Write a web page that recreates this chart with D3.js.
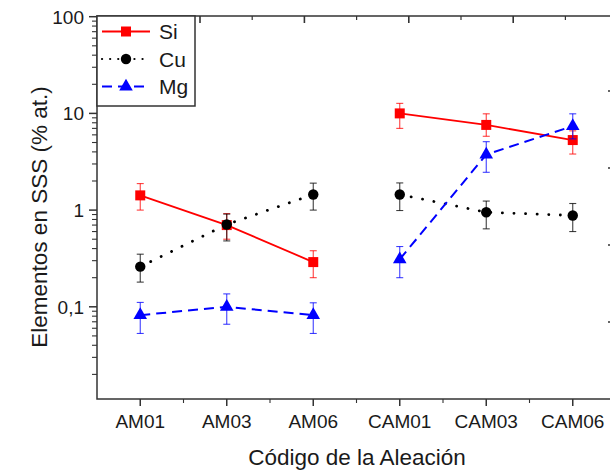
<!DOCTYPE html>
<html>
<head>
<meta charset="utf-8">
<script src="https://cdn.jsdelivr.net/npm/d3@7"></script>
<style>
  body { margin: 0; background: #fff; }
  text { font-family: "Liberation Sans", Arial, sans-serif; fill: #1a1a1a; }
</style>
</head>
<body>
<svg width="610" height="470"></svg>
<script>
var alloys = ["AM01", "AM03", "AM06", "CAM01", "CAM03", "CAM06"];

var si    = [1.42, 0.70, 0.29, 10.0, 7.6, 5.3];
var siLo  = [1.0, 0.50, 0.20, 7.0, 5.8, 3.8];
var siHi  = [1.88, 0.92, 0.38, 12.7, 9.9, 6.6];

var cu    = [0.26, 0.71, 1.45, 1.45, 0.95, 0.88];
var cuLo  = [0.18, 0.48, 1.0, 0.99, 0.64, 0.60];
var cuHi  = [0.35, 0.91, 1.9, 1.91, 1.24, 1.17];

var mg    = [0.082, 0.10, 0.082, 0.31, 3.75, 7.4];
var mgLo  = [0.053, 0.066, 0.053, 0.20, 2.46, 5.45];
var mgHi  = [0.111, 0.136, 0.11, 0.42, 5.1, 9.9];

var yTicks = [100, 10, 1, 0.1];
var yTickLabels = ["100", "10", "1", "0,1"];

var series = [
  { name: "Si", color: "#f00", v: si, lo: siLo, hi: siHi, dash: null, cap: "butt", width: 1.8, shape: d3.symbolSquare, size: 100 },
  { name: "Cu", color: "#000", v: cu, lo: cuLo, hi: cuHi, dash: "0.1,11.5", cap: "round", width: 2.8, shape: d3.symbolCircle, size: 85 },
  { name: "Mg", color: "#00f", v: mg, lo: mgLo, hi: mgHi, dash: "10,6", cap: "butt", width: 2, shape: d3.symbolTriangle, size: 80 }
];

var margin = { left: 97, top: 16, right: 616, bottom: 399 };
var svg = d3.select("svg");

var x = d3.scalePoint().domain(alloys).range([margin.left, margin.right]).padding(0.5);
var y = d3.scaleLog().domain([0.01, 100]).range([403.5, 16.7]);

// frame
svg.append("rect")
  .attr("x", margin.left).attr("y", margin.top)
  .attr("width", margin.right - margin.left).attr("height", margin.bottom - margin.top)
  .attr("fill", "none").attr("stroke", "#333").attr("stroke-width", 1.5);

// left axis: decades and minor ticks
var minor = [];
for (var e = -2; e < 2; e++) {
  for (var m = 2; m < 10; m++) minor.push(m * Math.pow(10, e));
}
minor = minor.filter(function(d) { return y(d) < margin.bottom; });
svg.append("g").selectAll("line").data(minor).join("line")
  .attr("x1", margin.left - 5).attr("x2", margin.left)
  .attr("y1", function(d) { return y(d); }).attr("y2", function(d) { return y(d); })
  .attr("stroke", "#333").attr("stroke-width", 1.1);
svg.append("g").selectAll("line").data(yTicks).join("line")
  .attr("x1", margin.left - 8).attr("x2", margin.left)
  .attr("y1", function(d) { return y(d); }).attr("y2", function(d) { return y(d); })
  .attr("stroke", "#333").attr("stroke-width", 1.5);
svg.append("g").selectAll("text").data(yTicks).join("text")
  .attr("x", margin.left - 13)
  .attr("y", function(d) { return y(d); })
  .attr("dy", "0.36em")
  .attr("text-anchor", "end")
  .attr("font-size", 19)
  .text(function(d, i) { return yTickLabels[i]; });

// bottom axis
var step = x.step();
svg.append("g").selectAll("line").data(alloys).join("line")
  .attr("x1", function(d) { return x(d); }).attr("x2", function(d) { return x(d); })
  .attr("y1", margin.bottom).attr("y2", margin.bottom + 7)
  .attr("stroke", "#333").attr("stroke-width", 1.5);
svg.append("g").selectAll("line").data(alloys.slice(0, -1)).join("line")
  .attr("x1", function(d) { return x(d) + step / 2; }).attr("x2", function(d) { return x(d) + step / 2; })
  .attr("y1", margin.bottom).attr("y2", margin.bottom + 4)
  .attr("stroke", "#333").attr("stroke-width", 1.1);
svg.append("g").selectAll("text").data(alloys).join("text")
  .attr("x", function(d) { return x(d); })
  .attr("y", 428)
  .attr("text-anchor", "middle")
  .attr("font-size", 19)
  .text(function(d) { return d; });

// top axis (inward ticks)
var topTicks = d3.range(0, 8);
svg.append("g").selectAll("line").data(topTicks).join("line")
  .attr("x1", function(d) { return 200 + d * 52.2; }).attr("x2", function(d) { return 200 + d * 52.2; })
  .attr("y1", margin.top).attr("y2", function(d) { return margin.top + (d % 2 === 0 ? 7 : 4); })
  .attr("stroke", "#333").attr("stroke-width", function(d) { return d % 2 === 0 ? 1.6 : 1.2; });

// right axis (inward ticks)
var rightTicks = [91, 168, 245, 322];
svg.append("g").selectAll("line").data(rightTicks).join("line")
  .attr("x1", margin.right - 8).attr("x2", margin.right)
  .attr("y1", function(d) { return d; }).attr("y2", function(d) { return d; })
  .attr("stroke", "#333").attr("stroke-width", 1.5);

// axis titles
svg.append("text")
  .attr("transform", "translate(47,217) rotate(-90)")
  .attr("text-anchor", "middle")
  .attr("font-size", 22.5)
  .text("Elementos en SSS (% at.)");
svg.append("text")
  .attr("x", 357).attr("y", 465)
  .attr("text-anchor", "middle")
  .attr("font-size", 22.5)
  .text("Código de la Aleación");

// series
var groupSplits = [[0, 3], [3, 6]];
series.forEach(function(s) {
  var g = svg.append("g");
  var line = d3.line()
    .x(function(d) { return x(alloys[d]); })
    .y(function(d) { return y(s.v[d]); });
  groupSplits.forEach(function(r) {
    g.append("path")
      .datum(d3.range(r[0], r[1]))
      .attr("d", line)
      .attr("fill", "none")
      .attr("stroke", s.color)
      .attr("stroke-width", s.width)
      .attr("stroke-linecap", s.cap)
      .attr("stroke-dasharray", s.dash);
  });
  var idx = d3.range(alloys.length);
  g.selectAll("line.err").data(idx).join("line")
    .attr("x1", function(i) { return x(alloys[i]); }).attr("x2", function(i) { return x(alloys[i]); })
    .attr("y1", function(i) { return y(s.lo[i]); }).attr("y2", function(i) { return y(s.hi[i]); })
    .attr("stroke", s.color).attr("stroke-width", 1.1).attr("opacity", 0.75);
  ["lo", "hi"].forEach(function(k) {
    g.selectAll("line.cap" + k).data(idx).join("line")
      .attr("x1", function(i) { return x(alloys[i]) - 3.5; }).attr("x2", function(i) { return x(alloys[i]) + 3.5; })
      .attr("y1", function(i) { return y(s[k][i]); }).attr("y2", function(i) { return y(s[k][i]); })
      .attr("stroke", s.color).attr("stroke-width", 1.1).attr("opacity", 0.75);
  });
  g.selectAll("path.mark").data(idx).join("path")
    .attr("transform", function(i) { return "translate(" + x(alloys[i]) + "," + y(s.v[i]) + ")"; })
    .attr("d", d3.symbol().type(s.shape).size(s.size))
    .attr("fill", s.color);
});

// legend
var legend = svg.append("g");
legend.append("rect")
  .attr("x", margin.left).attr("y", margin.top)
  .attr("width", 98).attr("height", 90)
  .attr("fill", "#fff").attr("stroke", "#333").attr("stroke-width", 1.5);
series.forEach(function(s, i) {
  var ly = 31.5 + i * 27.5;
  legend.append("line")
    .attr("x1", 102).attr("x2", 150).attr("y1", ly).attr("y2", ly)
    .attr("stroke", s.color).attr("stroke-width", s.name === "Cu" ? 2.2 : s.width)
    .attr("stroke-linecap", s.cap)
    .attr("stroke-dasharray", s.name === "Cu" ? "0.1,8" : s.dash);
  legend.append("path")
    .attr("transform", "translate(126," + ly + ")")
    .attr("d", d3.symbol().type(s.shape).size(s.size))
    .attr("fill", s.color);
  legend.append("text")
    .attr("x", 159).attr("y", ly).attr("dy", "0.36em")
    .attr("font-size", 21)
    .text(s.name);
});
</script>
</body>
</html>
